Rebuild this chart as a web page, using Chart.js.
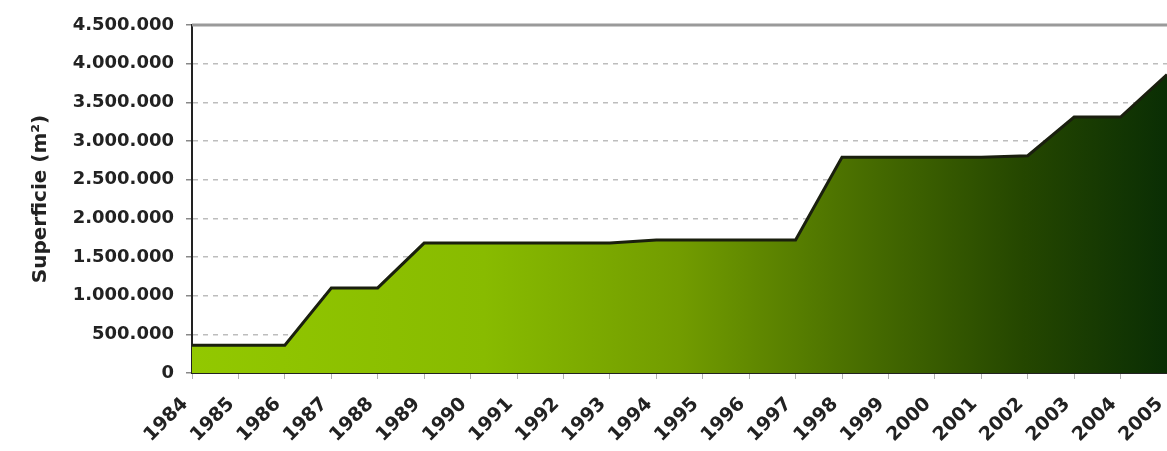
<!DOCTYPE html>
<html>
<head>
<meta charset="utf-8">
<script src="https://cdn.jsdelivr.net/npm/chart.js@4/dist/chart.umd.min.js"></script>
<style>
    html, body { margin: 0; padding: 0; background: #ffffff; }
    #wrap { width: 1167px; height: 451px; position: relative; }
</style>
</head>
<body>
<div id="wrap"><canvas id="superficie-chart"></canvas></div>
<script>
const YEARS = ["1984", "1985", "1986", "1987", "1988", "1989", "1990", "1991", "1992", "1993", "1994",
    "1995", "1996", "1997", "1998", "1999", "2000", "2001", "2002", "2003", "2004", "2005"];
const SUPERFICIE = [360000, 360000, 360000, 1100000, 1100000, 1680000, 1680000, 1680000, 1680000, 1680000, 1720000,
    1720000, 1720000, 1720000, 2790000, 2790000, 2790000, 2790000, 2810000, 3310000, 3310000, 3860000];
const Y_MAX = 4500000;
const Y_STEP = 500000;

let superficieChart;

function formatMiles(v) {
    return String(v).replace(/\B(?=(\d{3})+(?!\d))/g, ".");
}

function areaGradient(context) {
    const chart = context.chart;
    const area = chart.chartArea;
    if (!area) {
        return "#7aa600";
    }
    const g = chart.ctx.createLinearGradient(area.left, 0, area.right, 0);
    g.addColorStop(0, "#92c800");
    g.addColorStop(0.3, "#88bb00");
    g.addColorStop(0.5, "#729c00");
    g.addColorStop(0.7, "#456a00");
    g.addColorStop(0.85, "#254700");
    g.addColorStop(1, "#0a2e04");
    return g;
}

// grey line on top of the plot area
const topBorder = {
    id: "topBorder",
    afterDraw(chart) {
        const ctx = chart.ctx;
        const a = chart.chartArea;
        ctx.save();
        ctx.strokeStyle = "#9a9a9a";
        ctx.lineWidth = 3;
        ctx.beginPath();
        ctx.moveTo(a.left, a.top);
        ctx.lineTo(a.right, a.top);
        ctx.stroke();
        ctx.restore();
    }
};

function setConfig() {
    let data = {
        labels: YEARS,
        datasets: [{
            label: "Superficie",
            data: SUPERFICIE,
            fill: "origin",
            backgroundColor: areaGradient,
            borderColor: "#1a1f0e",
            borderWidth: 3,
            pointRadius: 0,
            tension: 0
        }]
    };

    let options = {
        responsive: false,
        animation: false,
        layout: {
            padding: { left: 29, right: 0, top: 25, bottom: 2 }
        },
        plugins: {
            legend: { display: false },
            tooltip: { enabled: false }
        },
        scales: {
            x: {
                grid: {
                    drawOnChartArea: false,
                    tickLength: 6,
                    tickColor: "#b0b0b0"
                },
                border: { color: "#222222", width: 2 },
                ticks: {
                    minRotation: 45,
                    maxRotation: 45,
                    autoSkip: false,
                    color: "#222222",
                    padding: 14,
                    labelOffset: -7,
                    font: { family: "DejaVu Sans", size: 19, weight: "bold" }
                },
                afterFit(scale) {
                    scale.height = 76;
                    scale.paddingLeft = 0;
                    scale.paddingRight = 0;
                }
            },
            y: {
                min: 0,
                max: Y_MAX,
                grid: {
                    color: function (ctx) {
                        if (ctx.tick && (ctx.tick.value === 0 || ctx.tick.value === Y_MAX)) {
                            return "rgba(0,0,0,0)";
                        }
                        return "#bdbdbd";
                    },
                    tickColor: "#888888",
                    tickLength: 6,
                    lineWidth: 1.5
                },
                border: { color: "#222222", width: 2, dash: [5, 5] },
                ticks: {
                    stepSize: Y_STEP,
                    color: "#222222",
                    padding: 12,
                    font: { family: "DejaVu Sans", size: 18, weight: "bold" },
                    callback: function (v) { return formatMiles(v); }
                },
                title: {
                    display: true,
                    text: "Superficie (m²)",
                    color: "#222222",
                    padding: { top: 0, bottom: 0 },
                    font: { family: "DejaVu Sans", size: 20, weight: "bold" }
                },
                afterFit(scale) {
                    scale.width = 163;
                }
            }
        }
    };

    return {
        type: "line",
        data: data,
        options: options,
        plugins: [topBorder]
    };
}

function drawChart() {
    const canvas = document.getElementById("superficie-chart");
    canvas.width = 1167;
    canvas.height = 451;
    superficieChart = new Chart(canvas, setConfig());
}

drawChart();
</script>
</body>
</html>
